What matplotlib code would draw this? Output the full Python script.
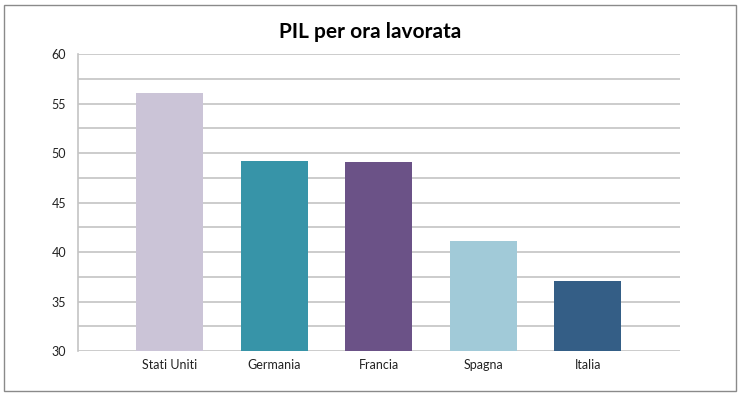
import matplotlib.pyplot as plt
from matplotlib.patches import Rectangle

paesi = ['Stati Uniti', 'Germania', 'Francia', 'Spagna', 'Italia']
pil_ora = [56.1, 49.2, 49.1, 41.1, 37.1]
colori = ['#cbc4d7', '#3794a8', '#6b5287', '#a1cad8', '#345e86']
tick_y = [30, 35, 40, 45, 50, 55, 60]

plt.rcParams['font.family'] = ['Lato', 'DejaVu Sans']

fig = plt.figure(figsize=(7.4, 3.96), dpi=100)
ax = fig.add_axes([0.1054, 0.1136, 0.8135, 0.75])

# griglia ogni 2.5 come in excel
for y in [30 + 2.5 * i for i in range(13)]:
    ax.axhline(y, color='#c4c4c4', lw=1.2, zorder=0)

x = list(range(len(paesi)))
ax.bar(x, pil_ora, width=0.64, color=colori, bottom=0, zorder=2)

ax.set_ylim(30, 60)
ax.set_xlim(-0.875, 4.88)
ax.set_yticks(tick_y)
ax.set_xticks(x)
ax.set_xticklabels(paesi)
ax.tick_params(axis='both', length=0, labelsize=9, colors='#222222')
ax.tick_params(axis='x', pad=6)
ax.tick_params(axis='y', pad=8.5)

for s in ['top', 'right', 'bottom']:
    ax.spines[s].set_visible(False)
ax.spines['left'].set_color('#c4c4c4')
ax.spines['left'].set_linewidth(1.2)

fig.text(0.5, 0.92, 'PIL per ora lavorata', ha='center', va='center',
         fontsize=15, fontweight='bold')

fig.patches.append(Rectangle((4 / 740, 5 / 396), 732 / 740, 386 / 396,
                             transform=fig.transFigure, fill=False,
                             edgecolor='#8a8a8a', lw=1.0))

fig.savefig('out.png', dpi=100)
